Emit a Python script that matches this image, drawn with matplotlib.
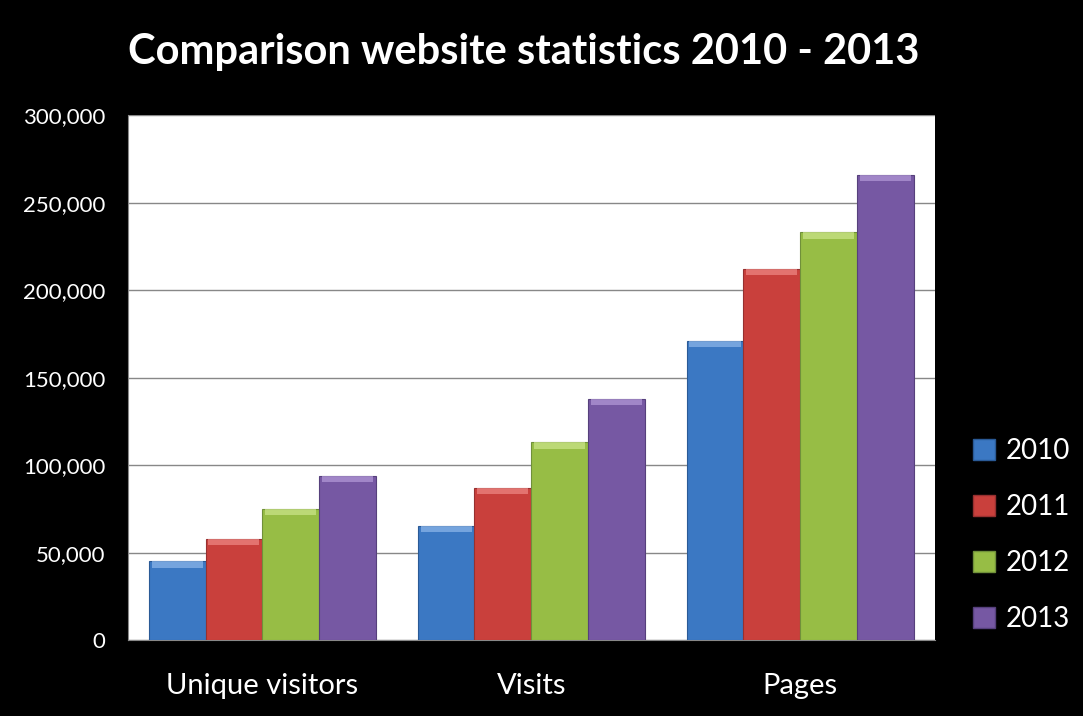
import matplotlib
matplotlib.use("Agg")
import matplotlib.pyplot as plt
from matplotlib.patches import Patch
from matplotlib.ticker import FuncFormatter
import numpy as np

plt.rcParams['font.family'] = ['Lato', 'DejaVu Sans']

categories = ['Unique visitors', 'Visits', 'Pages']
years = ['2010', '2011', '2012', '2013']
v2010 = [45000, 65500, 171000]
v2011 = [58000, 87000, 212000]
v2012 = [75000, 113000, 233000]
v2013 = [94000, 138000, 266000]
series = [v2010, v2011, v2012, v2013]

colors = ['#3b78c3', '#c9403c', '#97bd45', '#7658a3']
tops = ['#8fb8ea', '#ef8a86', '#cde68c', '#b49ad8']
edges = ['#2a5a96', '#963030', '#70903a', '#56407c']

fig = plt.figure(figsize=(10.83, 7.16), dpi=100, facecolor='black')
ax = fig.add_axes([0.118, 0.106, 0.745, 0.733])
ax.set_facecolor('white')

x = np.arange(len(categories))
w = 0.211
for i, vals in enumerate(series):
    pos = x + (i - 1.5) * w
    ax.bar(pos, vals, width=w, color=colors[i], edgecolor=edges[i],
           linewidth=0.8, zorder=3)
    # light bevel on top of each bar
    ax.bar(pos, [3500] * len(vals), bottom=np.array(vals) - 3500, width=w * 0.9,
           color=tops[i], linewidth=0, alpha=0.7, zorder=4)

ax.set_xlim(-0.5, 2.5)
ax.set_ylim(0, 300000)
ax.set_yticks(np.arange(0, 300001, 50000))
ax.yaxis.set_major_formatter(FuncFormatter(lambda v, p: f'{int(v):,}'))
ax.grid(axis='y', color='#888888', linewidth=1, zorder=0)
ax.set_xticks(x)
ax.set_xticklabels(categories)
ax.tick_params(axis='y', colors='white', labelsize=16, length=0, pad=16)
ax.tick_params(axis='x', colors='white', labelsize=21, length=0, pad=24)
for s in ['top', 'right']:
    ax.spines[s].set_visible(False)
for s in ['left', 'bottom']:
    ax.spines[s].set_color('#888888')

fig.text(0.484, 0.928, 'Comparison website statistics 2010 - 2013', color='white',
         fontsize=30, fontweight='bold', ha='center', va='center')

handles = [Patch(facecolor=colors[i], edgecolor=edges[i]) for i in range(4)]
leg = fig.legend(handles, years, loc='center left', bbox_to_anchor=(0.875, 0.253),
                 frameon=False, fontsize=20, labelspacing=1.08, handlelength=0.8,
                 handleheight=0.8, handletextpad=0.4)
for t in leg.get_texts():
    t.set_color('white')

fig.savefig('out.png', dpi=100, facecolor='black')
